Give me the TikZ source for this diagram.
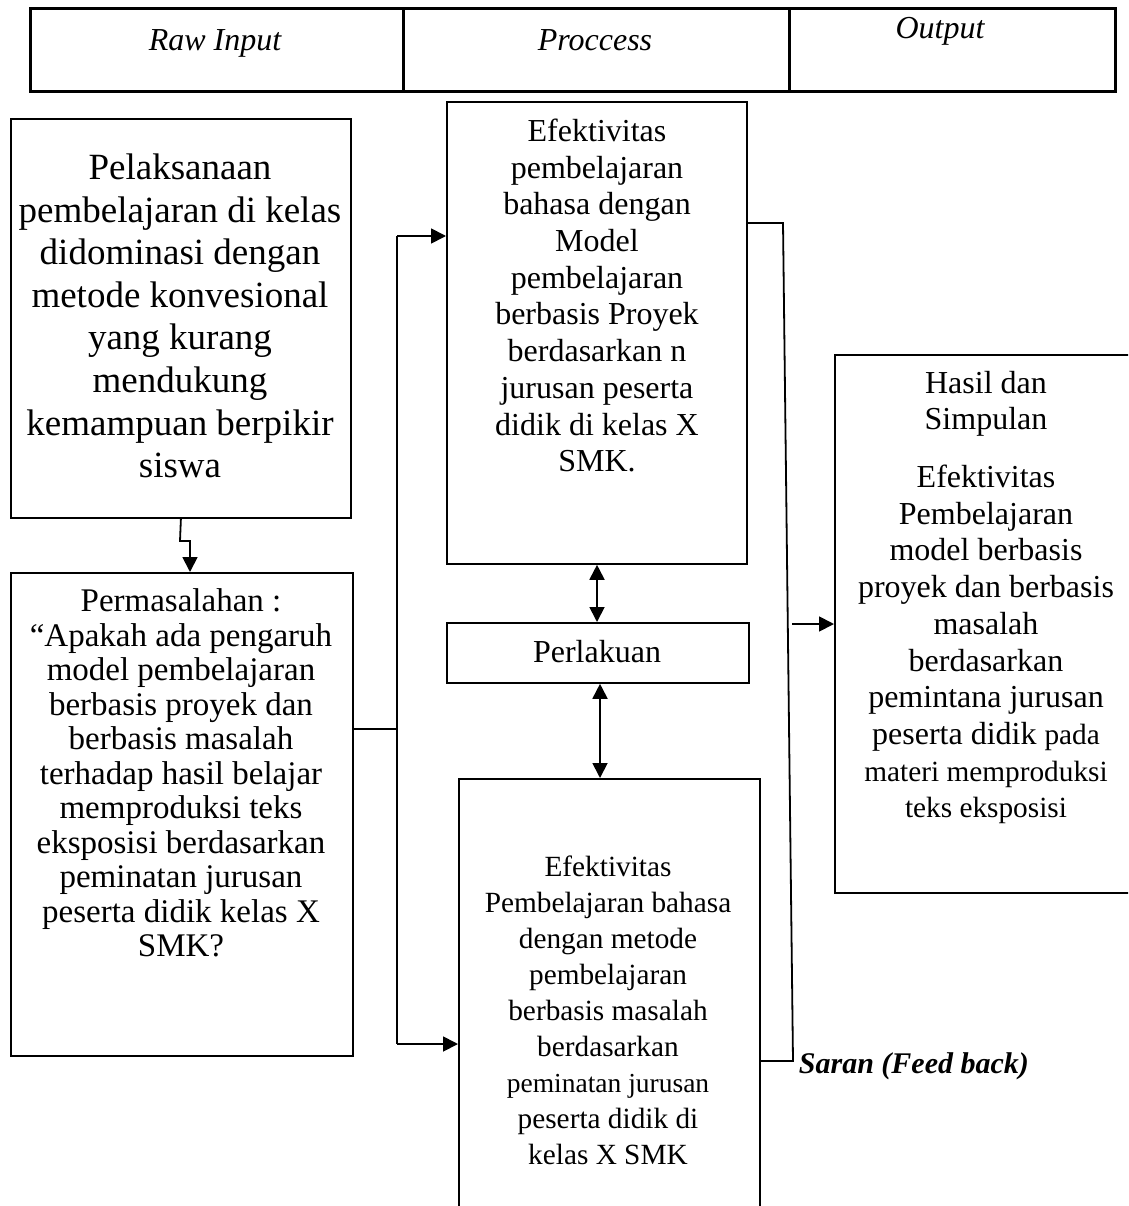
\documentclass[tikz,border=0pt]{standalone}
\usepackage{fontspec}
\setmainfont{Liberation Serif}
\usetikzlibrary{arrows.meta}
\begin{document}
\begin{tikzpicture}[x=1pt,y=-1pt,line width=1.8pt,
  box/.style={draw,line width=1.8pt,inner sep=0pt,anchor=north west},
  hbox/.style={draw,line width=2.6pt,inner sep=0pt,anchor=north west,minimum height=83pt},
  txt/.style={align=center,inner sep=0pt,anchor=north},
  arr/.style={-{Triangle[length=15pt,width=15pt]}},
  darr/.style={{Triangle[length=15pt,width=15pt]}-{Triangle[length=15pt,width=15pt]}},
  hfont/.style={font=\itshape\fontsize{32}{38}\selectfont,inner sep=0pt,anchor=base}]
\useasboundingbox (0,0) rectangle (1128,1206);
\clip (0,0) rectangle (1128,1206);
% header
\node[hbox,minimum width=373pt] (h1) at (29,7) {};
\node[hbox,minimum width=386pt] (h2) at (402,7) {};
\node[hbox,minimum width=326pt] (h3) at (788,7) {};
\node[hfont] (th1) at (215,51) {Raw Input};
\node[hfont] (th2) at (595,51) {Proccess};
\node[hfont] (th3) at (940,39) {Output};
% boxes
\node[box,minimum width=340pt,minimum height=399pt] (b1) at (10,118) {};
\node[box,minimum width=342pt,minimum height=483pt] (b2) at (10,572) {};
\node[box,minimum width=300pt,minimum height=462pt] (b3) at (446,101) {};
\node[box,minimum width=302pt,minimum height=60pt] (pl) at (446,622) {};
\node[box,minimum width=301pt,minimum height=460pt] (b4) at (458,778) {};
\node[box,minimum width=305pt,minimum height=538pt] (b5) at (834,354) {};
% texts
\node[txt,font=\fontsize{37}{42.6}\selectfont] (t1) at (180,153)
 {Pelaksanaan\\pembelajaran di kelas\\didominasi dengan\\metode konvesional\\yang kurang\\mendukung\\kemampuan berpikir\\siswa};
\node[txt,font=\fontsize{33}{34.5}\selectfont] (t2) at (181,588)
 {Permasalahan :\\“Apakah ada pengaruh\\model pembelajaran\\berbasis proyek dan\\berbasis masalah\\terhadap hasil belajar\\memproduksi teks\\eksposisi berdasarkan\\peminatan jurusan\\peserta didik kelas X\\SMK?};
\node[txt,font=\fontsize{32}{36.7}\selectfont] (t3) at (597,118)
 {Efektivitas\\pembelajaran\\bahasa dengan\\Model\\pembelajaran\\berbasis Proyek\\berdasarkan n\\jurusan peserta\\didik di kelas X\\SMK.};
\node[inner sep=0pt,font=\fontsize{32}{36.7}\selectfont] (tp) at (597,652) {Perlakuan};
\node[txt,font=\fontsize{29.3}{36}\selectfont] (t4) at (608,855)
 {Efektivitas\\Pembelajaran bahasa\\dengan metode\\pembelajaran\\berbasis masalah\\berdasarkan\\{\fontsize{27.5}{36}\selectfont peminatan jurusan}\\peserta didik di\\kelas X SMK};
\node[txt,font=\fontsize{32}{36.7}\selectfont] (t5) at (986,370)
 {Hasil dan\\Simpulan\\[21pt]Efektivitas\\Pembelajaran\\model berbasis\\proyek dan berbasis\\masalah\\berdasarkan\\pemintana jurusan\\peserta didik {\fontsize{29.3}{36.7}\selectfont pada}\\{\fontsize{29.3}{36.7}\selectfont materi memproduksi}\\{\fontsize{29.3}{36.7}\selectfont teks eksposisi}};
\node[inner sep=0pt,anchor=base west,font=\bfseries\itshape\fontsize{30}{35}\selectfont] (saran) at (798,1073) {Saran (Feed back)};
% connectors
\coordinate (k1) at (180,541);
\coordinate (k2) at (190,541);
\draw[arr] (b1.south) -- (k1) -- (k2) -- (k2 |- b2.north);
\coordinate (tr) at (397,729);
\coordinate (tt) at (397,236);
\coordinate (tb) at (397,1044);
\draw (b2.east |- tr) -- (tr);
\draw (tt) -- (tb);
\draw[arr] (tt) -- (tt -| b3.west);
\draw[arr] (tb) -- (tb -| b4.west);
\coordinate (d1) at (597,0);
\coordinate (d2) at (600,0);
\draw[darr] (d1 |- b3.south) -- (d1 |- pl.north);
\draw[darr] (d2 |- pl.south) -- (d2 |- b4.north);
\coordinate (f1) at (783,223);
\coordinate (f2) at (793,1061);
\coordinate (f3) at (792,624);
\draw (f1 -| b3.east) -- (f1) -- (f2) -- (f2 -| b4.east);
\draw[arr] (f3) -- (f3 -| b5.west);
\end{tikzpicture}
\end{document}
